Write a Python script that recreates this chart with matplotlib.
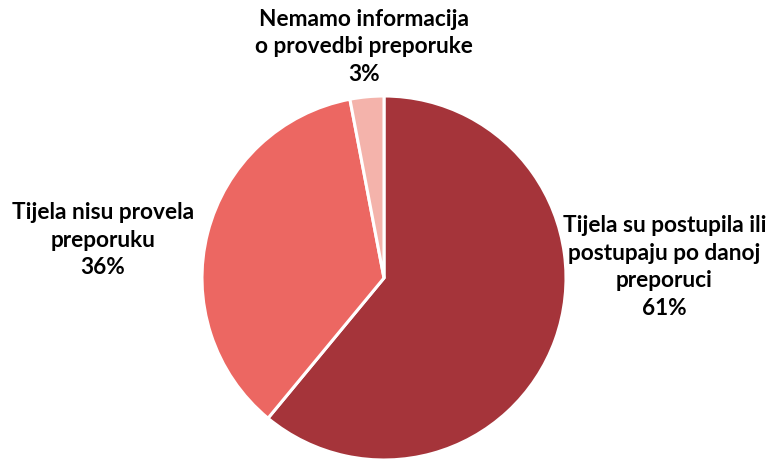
import matplotlib
matplotlib.use("Agg")
import matplotlib.pyplot as plt

labels = ["Tijela su postupila ili\npostupaju po danoj\npreporuci",
          "Tijela nisu provela\npreporuku",
          "Nemamo informacija\no provedbi preporuke"]
values = [61, 36, 3]
colors = ["#A5343A", "#EC6762", "#F4B3AB"]

plt.rcParams['font.family'] = ['Lato', 'DejaVu Sans']

fig = plt.figure(figsize=(7.68, 4.6), dpi=100)
ax = fig.add_axes([0, 0, 1, 1])
R = 182.0
cx, cy = 384.0, 181.0

wedges, _ = ax.pie(values, colors=colors, startangle=90, counterclock=False,
                   radius=1.0, center=(0, 0),
                   wedgeprops=dict(edgecolor='white', linewidth=2.2))
ax.set_xlim(-cx / R, (768 - cx) / R)
ax.set_ylim(-cy / R, (460 - cy) / R)
ax.set_aspect('equal')
ax.axis('off')

label_pos = [(1.54, 0.066), (-1.545, 0.214), (-0.11, 1.275)]
for lab, v, (x, y) in zip(labels, values, label_pos):
    ax.text(x, y, f"{lab}\n{v}%", ha='center', va='center', fontsize=16.3,
            fontweight='bold', linespacing=1.4, color='black')

fig.savefig("out.png", dpi=100)
